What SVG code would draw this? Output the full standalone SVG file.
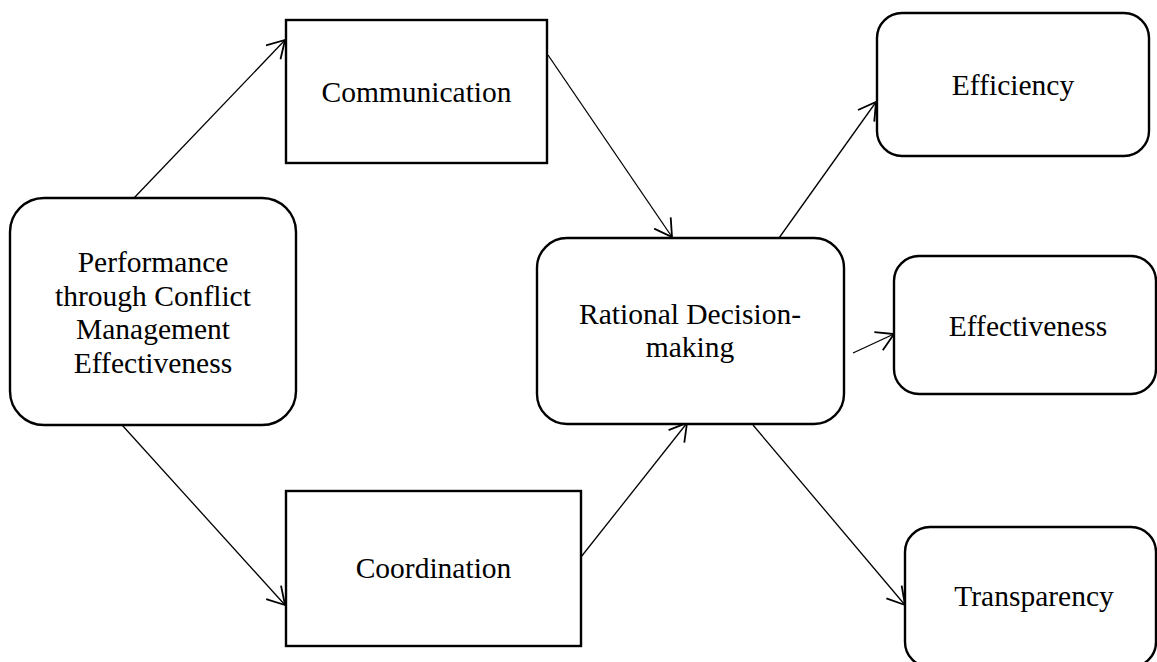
<svg xmlns="http://www.w3.org/2000/svg" width="1157" height="662" viewBox="0 0 1157 662">
<style>
.box{fill:#fff;stroke:#000;stroke-width:2.4}
.lbl{font-family:"Liberation Serif","Times New Roman",serif;font-size:29.5px;fill:#000;text-anchor:middle}
.con{stroke:#000;stroke-width:1.3;fill:none;marker-end:url(#arr)}
</style>
<defs>
<marker id="arr" markerUnits="userSpaceOnUse" markerWidth="40" markerHeight="40" refX="0" refY="0" viewBox="-20 -20 40 40" orient="auto" overflow="visible">
<path d="M -17,-10 L 0,0 L -17,10" fill="none" stroke="#000" stroke-width="1.8"/>
</marker>
</defs>
<rect width="1157" height="662" fill="#fff"/>
<g id="connectors">
<line class="con" x1="134" y1="198" x2="285" y2="40"/>
<line class="con" x1="122" y1="425" x2="285" y2="605"/>
<line class="con" x1="548" y1="55" x2="672" y2="237"/>
<line class="con" x1="581" y1="557" x2="687" y2="423"/>
<line class="con" x1="779" y1="238" x2="876" y2="102"/>
<line class="con" x1="853" y1="353" x2="894" y2="334"/>
<line class="con" x1="753" y1="425" x2="905" y2="605"/>
</g>
<g id="perf">
<rect class="box" x="10" y="198" width="286" height="227" rx="34" ry="34"/>
<text class="lbl" x="153" y="272">Performance</text>
<text class="lbl" x="153" y="305.5">through Conflict</text>
<text class="lbl" x="153" y="339">Management</text>
<text class="lbl" x="153" y="372.5">Effectiveness</text>
</g>
<g id="communication">
<rect class="box" x="286" y="20" width="261" height="143"/>
<text class="lbl" x="416.5" y="102">Communication</text>
</g>
<g id="coordination">
<rect class="box" x="286" y="491" width="295" height="155"/>
<text class="lbl" x="433.5" y="578">Coordination</text>
</g>
<g id="rational">
<rect class="box" x="537" y="238" width="307" height="186" rx="30" ry="30"/>
<text class="lbl" x="690" y="324">Rational Decision-</text>
<text class="lbl" x="690" y="357">making</text>
</g>
<g id="efficiency">
<rect class="box" x="877" y="13" width="272" height="143" rx="25" ry="25"/>
<text class="lbl" x="1013" y="95">Efficiency</text>
</g>
<g id="effectiveness">
<rect class="box" x="894" y="256" width="262" height="138" rx="25" ry="25"/>
<text class="lbl" x="1028" y="336">Effectiveness</text>
</g>
<g id="transparency">
<rect class="box" x="905" y="527" width="251" height="140" rx="25" ry="25"/>
<text class="lbl" x="1034" y="606">Transparency</text>
</g>
</svg>
